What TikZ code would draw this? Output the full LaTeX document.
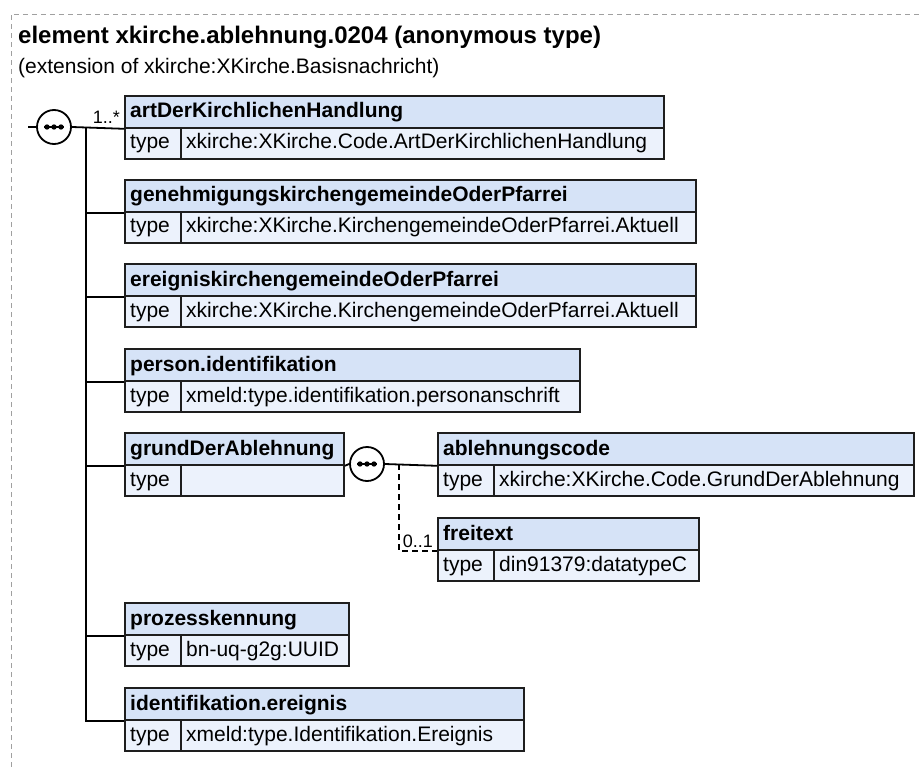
\documentclass[tikz,border=0pt]{standalone}
\usepackage{fontspec}
\setmainfont{Liberation Sans}
\definecolor{hdrblue}{RGB}{214,227,247}
\definecolor{rowblue}{RGB}{236,242,252}
\definecolor{edgecol}{RGB}{30,30,30}
\definecolor{framegray}{RGB}{160,160,160}
\tikzset{
  boxline/.style={draw=edgecol, line width=1.8pt},
  hdrcell/.style={boxline, fill=hdrblue, rectangle, anchor=north west, minimum height=32pt, inner sep=0pt},
  typecell/.style={boxline, fill=rowblue, rectangle, anchor=north west, minimum height=31pt, inner sep=0pt},
  hdrtext/.style={font=\fontsize{21}{24}\selectfont\bfseries, anchor=base west, inner sep=0pt},
  rowtext/.style={font=\fontsize{21}{24}\selectfont, anchor=base west, inner sep=0pt},
  conn/.style={draw=black, line width=1.8pt},
  optconn/.style={conn, dash pattern=on 6pt off 4pt},
  compositor/.style={circle, draw=black, line width=1.8pt, fill=white, minimum size=34pt, inner sep=0pt},
  mult/.style={font=\fontsize{18}{20}\selectfont, anchor=base east, inner sep=0pt},
  frame/.style={draw=framegray, line width=0.8pt, dash pattern=on 5pt off 4pt},
}
\newcommand{\xsdelem}[7]{%
  \node[hdrcell, minimum width=#4pt] (#1) at (#2,#3) {};
  \node[typecell, minimum width=#5pt] (#1-k) at (#2,#3+32) {};
  \node[typecell, minimum width=#4pt-#5pt] (#1-t) at (#2+#5,#3+32) {};
  \node[hdrtext] (#1-h) at (#2+6,#3+23) {#6};
  \node[rowtext] (#1-kl) at (#2+6,#3+32+22) {type};
  \node[rowtext] (#1-tl) at (#2+#5+6,#3+32+22) {#7};
}
\newcommand{\seqdots}[1]{%
  \draw[line width=1.4pt] ([xshift=-10pt]#1.center) -- ([xshift=10pt]#1.center);
  \fill ([xshift=-7pt]#1.center) circle (2.7pt);
  \fill (#1.center) circle (2.7pt);
  \fill ([xshift=7pt]#1.center) circle (2.7pt);
}
\begin{document}
\begin{tikzpicture}[x=1pt, y=-1pt]
\useasboundingbox (0,0) rectangle (920,767);
\fill[white] (0,0) rectangle (920,767);
\draw[frame] (11,767) -- (11,14) -- (920,14);

\node[anchor=base west, inner sep=0pt, font=\fontsize{24}{28}\selectfont\bfseries] (title) at (18,44) {element xkirche.ablehnung.0204 (anonymous type)};
\node[anchor=base west, inner sep=0pt, font=\fontsize{21}{24}\selectfont] (subtitle) at (18,74) {(extension of xkirche:XKirche.Basisnachricht)};

% elements
\xsdelem{b1}{124}{95}{539}{56}{artDerKirchlichenHandlung}{xkirche:XKirche.Code.ArtDerKirchlichenHandlung}
\xsdelem{b2}{124}{179}{571}{56}{genehmigungskirchengemeindeOderPfarrei}{xkirche:XKirche.KirchengemeindeOderPfarrei.Aktuell}
\xsdelem{b3}{124}{263}{571}{56}{ereigniskirchengemeindeOderPfarrei}{xkirche:XKirche.KirchengemeindeOderPfarrei.Aktuell}
\xsdelem{b4}{124}{348}{455}{56}{person.identifikation}{xmeld:type.identifikation.personanschrift}
\xsdelem{b5}{124}{432}{219}{56}{grundDerAblehnung}{}
\xsdelem{b6}{437}{432}{476}{56}{ablehnungscode}{xkirche:XKirche.Code.GrundDerAblehnung}
\xsdelem{b7}{437}{517}{261}{56}{freitext}{din91379:datatypeC}
\xsdelem{b8}{124}{602}{224}{56}{prozesskennung}{bn-uq-g2g:UUID}
\xsdelem{b9}{124}{687}{399}{56}{identifikation.ereignis}{xmeld:type.Identifikation.Ereignis}

% main sequence
\coordinate (in1) at (28,127);
\coordinate (trunk) at (86,127);
\node[compositor] (seq1) at (54,127) {};
\seqdots{seq1}
\draw[conn] (in1) -- (seq1.west);
\draw[conn] (seq1.east) -- (b1.south west);
\draw[conn] (trunk) -- (trunk |- b9.south west) -- (b9.south west);
\foreach \b in {b2,b3,b4,b5,b8}{
  \draw[conn] (trunk |- \b.south west) -- (\b.south west);
}
\node[mult] (m1) at (120,124) {1..*};

% nested sequence
\node[compositor] (seq2) at (367,464) {};
\seqdots{seq2}
\coordinate (br2) at (399,464);
\draw[conn] (b5.south east) -- (seq2.west);
\draw[conn] (seq2.east) -- (b6.south west);
\draw[optconn] (br2) -- (br2 |- b7.south west) -- (b7.south west);
\node[mult] (m2) at (433,547) {0..1};
\end{tikzpicture}
\end{document}
